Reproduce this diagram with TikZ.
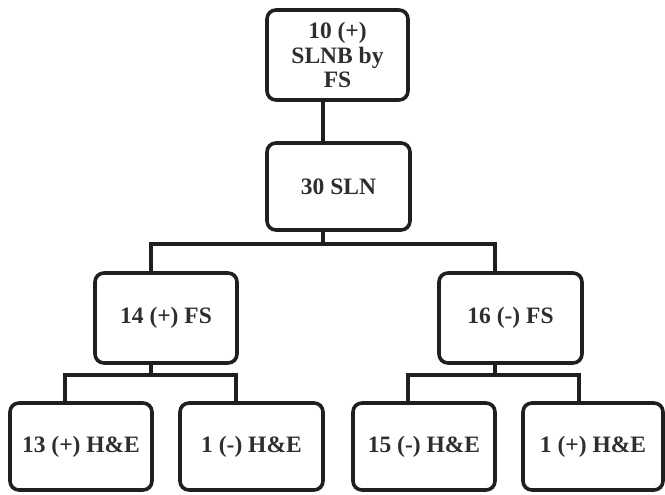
\documentclass[tikz,border=0pt]{standalone}
\usepackage{fontspec}
\setmainfont{Liberation Serif}
\begin{document}
\begin{tikzpicture}[x=1pt,y=-1pt,
  box/.style={draw=black!88,line width=3.6pt,rounded corners=9pt,minimum width=142pt,minimum height=88pt,inner sep=0pt,align=center,font=\fontsize{23.5}{24.5}\selectfont\bfseries,text=black!82},
  conn/.style={draw=black!88,line width=3.6pt,line join=miter}]
\useasboundingbox (0,0) rectangle (665,495);
\node[box,minimum width=141pt,minimum height=90pt] (A) at (337.5,55) {10 (+)\\SLNB by\\FS};
\node[box,minimum width=143pt,minimum height=87pt] (B) at (338.5,186.5) {30 SLN};
\node[box,minimum height=90pt] (C) at (166,318) {14 (+) FS};
\node[box,minimum width=143pt,minimum height=90pt] (D) at (510.5,318) {16 (-) FS};
\node[box,minimum height=87pt] (E) at (81,446.5) {13 (+) H\&E};
\node[box,minimum width=143pt,minimum height=87pt] (F) at (251.5,446.5) {1 (-) H\&E};
\node[box,minimum height=87pt] (G) at (424,446.5) {15 (-) H\&E};
\node[box,minimum width=140pt,minimum height=87pt] (H) at (593,446.5) {1 (+) H\&E};
\coordinate (bj) at (323,244);
\coordinate (cj) at (151,375);
\coordinate (dj) at (495,375);
\draw[conn] ([xshift=-14.5pt]A.south) -- ([xshift=-15.5pt]B.north);
\draw[conn] ([xshift=-15.5pt]B.south) -- (bj);
\draw[conn] ([xshift=-15pt]C.north) |- (bj) -| ([xshift=-15.5pt]D.north);
\draw[conn] ([xshift=-15pt]C.south) -- (cj);
\draw[conn] ([xshift=-16pt]E.north) |- (cj) -| ([xshift=-15.5pt]F.north);
\draw[conn] ([xshift=-15.5pt]D.south) -- (dj);
\draw[conn] ([xshift=-16pt]G.north) |- (dj) -| ([xshift=-14pt]H.north);
\end{tikzpicture}
\end{document}
